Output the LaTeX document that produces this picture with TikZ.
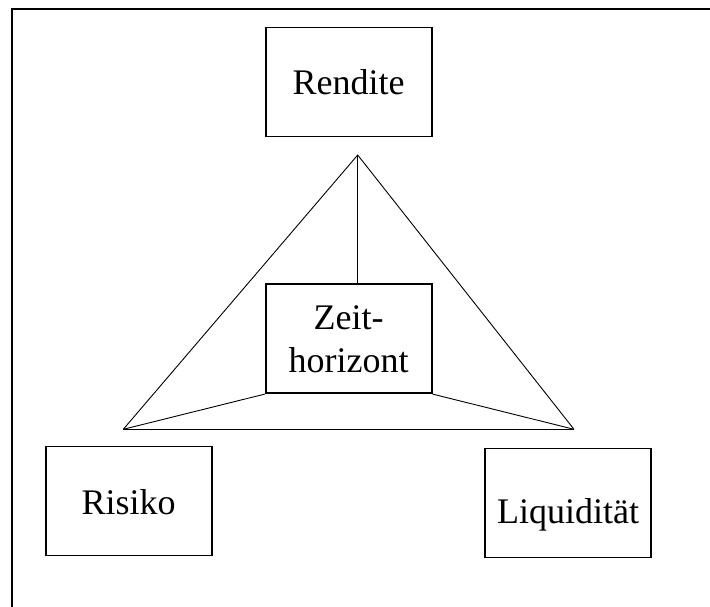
\documentclass[tikz,border=0pt]{standalone}
\usepackage{fontspec}
\setmainfont{Liberation Serif}
\begin{document}
\begin{tikzpicture}[x=1pt,y=-1pt,
  box/.style={draw=black,line width=1.8pt,minimum width=166pt,minimum height=109pt,inner sep=0pt,
    font=\fontsize{36}{43}\selectfont,text depth=0pt,text height=26pt},
  thin/.style={draw=black,line width=0.9pt},
  frame/.style={draw=black,line width=2.4pt}]
\useasboundingbox (0,0) rectangle (710,607);
\fill[white] (0,0) rectangle (710,607);
% outer frame (left and top edges)
\coordinate (fbl) at (11.7,607);
\coordinate (ftl) at (11.7,9.3);
\coordinate (ftr) at (710,9.3);
\draw[frame] (fbl) -- (ftl) -- (ftr);
% boxes
\node[box] (rendite) at (348.7,82) {Rendite};
\node[box,text depth=0pt,text height=0pt] (zeit) at (348.7,338.7) {};
\node (zeittext) at (348.7,372.5) [anchor=base,font=\fontsize{36}{43}\selectfont,align=center,inner sep=0pt] {Zeit-\\horizont};
\node[box] (risiko) at (128.7,501) {Risiko};
\node[box,text height=40pt] (liqui) at (568,503) {Liquidität};
% triangle
\coordinate (apex) at (357.7,155);
\coordinate (bl) at (123.3,429.3);
\coordinate (br) at (574,429.3);
\draw[thin] (bl) -- (apex) -- (br);
\draw[thin] (apex) -- (apex |- zeit.north);
\draw[draw=black,line width=1.5pt] (bl) -- (br);
\draw[thin] (zeit.south west) -- (bl);
\draw[thin] (zeit.south east) -- (br);
\end{tikzpicture}
\end{document}
